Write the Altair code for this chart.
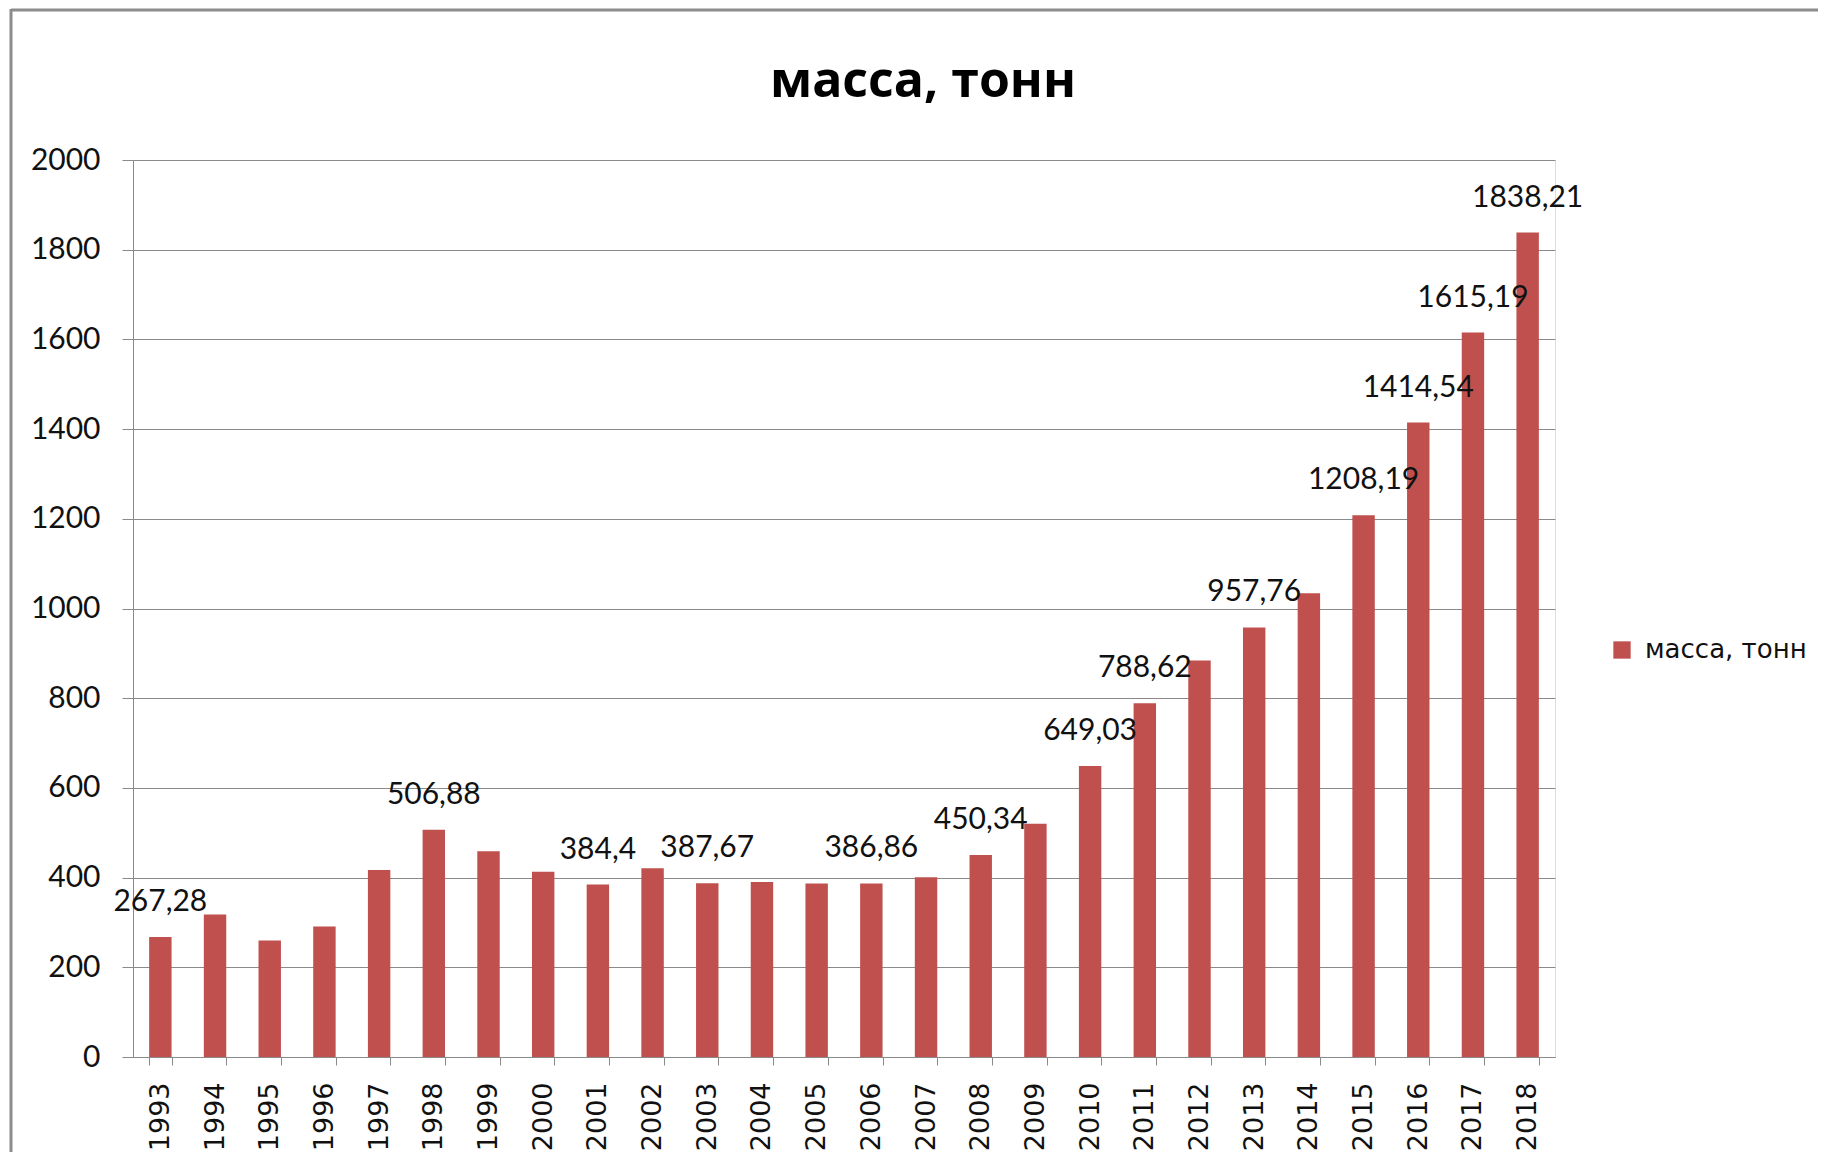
import altair as alt
import pandas as pd

years = [str(y) for y in range(1993, 2019)]
mass = [267.28, 318, 260, 291, 417, 506.88, 459, 413, 384.4, 421,
        387.67, 390, 387, 386.86, 401, 450.34, 520, 649.03, 788.62, 884,
        957.76, 1034, 1208.19, 1414.54, 1615.19, 1838.21]
labels = ["267,28", "", "", "", "", "506,88", "", "", "384,4", "",
          "387,67", "", "", "386,86", "", "450,34", "", "649,03", "788,62", "",
          "957,76", "", "1208,19", "1414,54", "1615,19", "1838,21"]
series = "масса, тонн"
y_ticks = list(range(0, 2001, 200))

df = pd.DataFrame({"year": years, "mass": mass, "label": labels, "series": series})

BAR = "#C0504D"
GRID = "#8a8a8a"

x_enc = alt.X("year:N", sort=years,
              scale=alt.Scale(paddingInner=0.59, paddingOuter=0.295),
              axis=alt.Axis(title=None, labelAngle=-90, labelFont="DejaVu Sans",
                            labelFontSize=27, labelColor="#111", labelPadding=17,
                            tickBand="extent", tickSize=8, tickColor=GRID,
                            domainColor=GRID, grid=False))
y_enc = alt.Y("mass:Q", scale=alt.Scale(domain=[0, 2000], nice=False),
              axis=alt.Axis(title=None, values=y_ticks, format="d", labelFont="Lato",
                            labelFontSize=30, labelColor="#111", labelPadding=22,
                            tickSize=11, tickColor=GRID, domainColor=GRID,
                            gridColor=GRID, gridWidth=1))

bars = alt.Chart(df).mark_bar().encode(
    x=x_enc, y=y_enc,
    color=alt.Color("series:N", scale=alt.Scale(domain=[series], range=[BAR]),
                    legend=alt.Legend(title=None, orient="none", legendX=1476, legendY=477,
                                      symbolType="square", symbolSize=300,
                                      symbolStrokeWidth=0, labelFont="DejaVu Sans",
                                      labelFontSize=26, labelColor="#111",
                                      labelOffset=10, labelLimit=400, padding=0)),
)

text = alt.Chart(df).transform_filter("datum.label != ''").mark_text(
    font="Lato", fontSize=30, color="#111", baseline="alphabetic", dy=-26
).encode(x=alt.X("year:N", sort=years), y="mass:Q", text="label:N")

frame_data = alt.Data(values=[{"k": 1}])
frame_top = alt.Chart(frame_data).mark_rule(color="#8c8c8c", strokeWidth=3).encode(
    x=alt.value(-122), x2=alt.value(1690), y=alt.value(-150))
frame_left = alt.Chart(frame_data).mark_rule(color="#8c8c8c", strokeWidth=3).encode(
    x=alt.value(-122), y=alt.value(-151), y2=alt.value(1000))

chart = alt.layer(bars, text, frame_top, frame_left).properties(
    width=1422, height=897,
    padding={"left": 125, "top": 152, "right": 263, "bottom": 95},
    autosize=alt.AutoSizeParams(type="none"),
    title=alt.TitleParams(series, font="Open Sans", fontSize=50, fontWeight="bold",
                          color="#000", anchor="middle", frame="group",
                          baseline="alphabetic", offset=-139, dx=79),
).configure_view(stroke=None).configure(background="white")

chart.save("out.html", embed_options={"renderer": "svg", "actions": False})
